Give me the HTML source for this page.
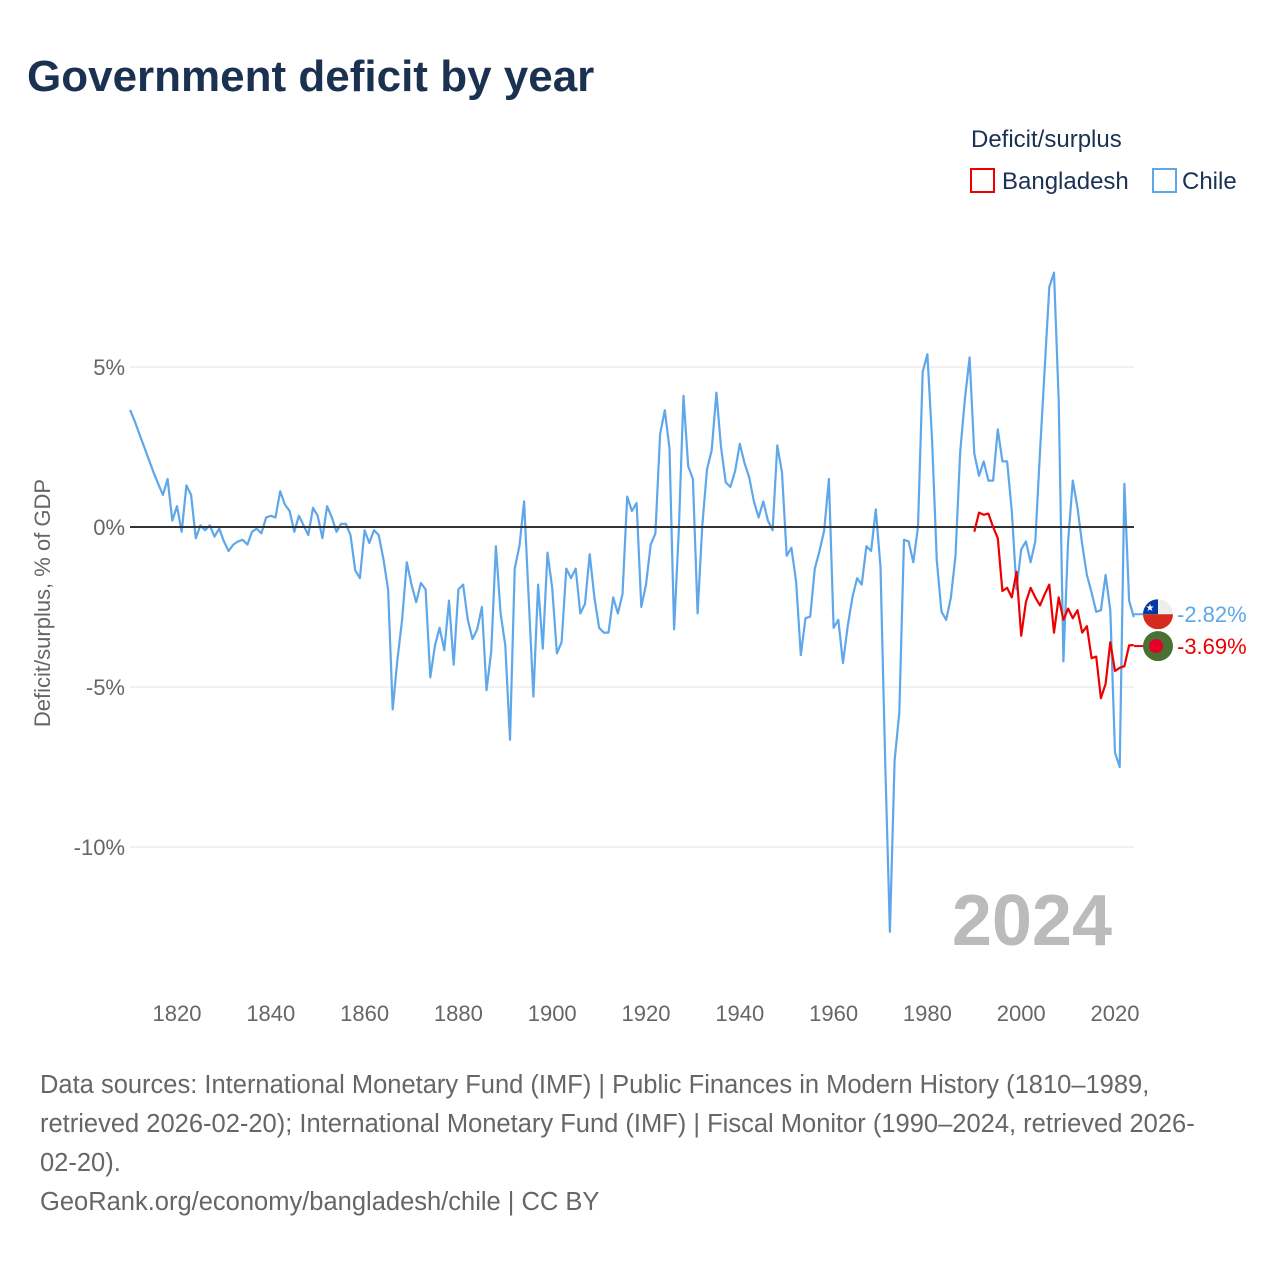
<!DOCTYPE html>
<html><head><meta charset="utf-8">
<style>
body{margin:0;background:#fff;font-family:"Liberation Sans",sans-serif;}
#wrap{position:relative;width:1280px;height:1280px;overflow:hidden;}
.title{position:absolute;left:27px;top:52px;font-size:44px;font-weight:bold;color:#1b3152;}
.foot{position:absolute;left:40px;top:1066px;width:1230px;font-size:25.5px;line-height:39px;color:#666;white-space:nowrap;}
</style></head><body>
<div id="wrap">
<div class="title">Government deficit by year</div>
<svg id="chart" width="1280" height="1280" style="position:absolute;left:0;top:0"></svg>
<div class="foot">Data sources: International Monetary Fund (IMF) | Public Finances in Modern History (1810–1989,<br>retrieved 2026-02-20); International Monetary Fund (IMF) | Fiscal Monitor (1990–2024, retrieved 2026-<br>02-20).<br>GeoRank.org/economy/bangladesh/chile | CC BY</div>
</div>
<script>
const yTicks=[5,0,-5,-10];
const yTickLabels=["5%","0%","-5%","-10%"];
const xTicks=[1820,1840,1860,1880,1900,1920,1940,1960,1980,2000,2020];
const chileStart=1810;
const chileValues=[3.66,3.3,2.9,2.5,2.1,1.7,1.35,1.0,1.5,0.2,0.65,-0.15,1.3,1.0,-0.35,0.05,-0.1,0.05,-0.3,-0.05,
-0.45,-0.75,-0.55,-0.45,-0.4,-0.55,-0.15,-0.05,-0.2,0.3,0.35,0.3,1.12,0.7,0.5,-0.15,0.35,0.05,-0.25,0.6,
0.35,-0.35,0.65,0.3,-0.15,0.1,0.1,-0.25,-1.35,-1.6,-0.1,-0.5,-0.1,-0.25,-1.0,-1.95,-5.7,-4.15,-2.9,-1.1,
-1.8,-2.35,-1.75,-1.95,-4.7,-3.7,-3.15,-3.85,-2.3,-4.3,-1.95,-1.8,-2.9,-3.5,-3.2,-2.5,-5.1,-3.9,-0.6,-2.7,
-3.7,-6.65,-1.3,-0.6,0.8,-2.3,-5.3,-1.8,-3.8,-0.8,-1.9,-3.95,-3.6,-1.3,-1.6,-1.3,-2.7,-2.4,-0.85,-2.2,
-3.15,-3.3,-3.3,-2.2,-2.7,-2.1,0.95,0.5,0.75,-2.5,-1.8,-0.55,-0.2,2.9,3.65,2.45,-3.2,-0.1,4.1,1.9,
1.5,-2.7,0.05,1.8,2.4,4.2,2.5,1.4,1.25,1.75,2.6,2.0,1.55,0.8,0.3,0.8,0.2,-0.1,2.55,1.7,
-0.9,-0.65,-1.7,-4.0,-2.85,-2.8,-1.3,-0.75,-0.1,1.5,-3.15,-2.9,-4.25,-3.1,-2.2,-1.6,-1.8,-0.6,-0.75,0.55,
-1.25,-7.35,-12.65,-7.3,-5.8,-0.4,-0.45,-1.1,0,4.85,5.4,2.7,-1.05,-2.65,-2.9,-2.2,-0.9,2.35,4.0,5.3,
2.3,1.6,2.05,1.45,1.45,3.05,2.05,2.05,0.5,-1.95,-0.7,-0.45,-1.1,-0.45,2.35,4.95,7.5,7.95,3.95,-4.2,
-0.45,1.45,0.6,-0.55,-1.5,-2.05,-2.65,-2.6,-1.5,-2.6,-7.05,-7.5,1.35,-2.3,-2.82];
const bdStart=1990;
const bdValues=[-0.15,0.45,0.38,0.42,0,-0.35,-2.0,-1.9,-2.2,-1.4,-3.4,-2.35,-1.9,-2.2,-2.45,-2.1,-1.8,-3.3,-2.2,-2.9,
-2.55,-2.85,-2.6,-3.3,-3.1,-4.1,-4.05,-5.35,-4.9,-3.6,-4.5,-4.4,-4.35,-3.7,-3.69];
const NS="http://www.w3.org/2000/svg";
const svg=document.getElementById('chart');
const X=yr=>177+(yr-1820)*4.69;
const Y=v=>527-v*32;
function mk(t,a){const e=document.createElementNS(NS,t);for(const k in a)e.setAttribute(k,a[k]);svg.appendChild(e);return e;}
yTicks.forEach((t,i)=>{
  if(t!==0){const g=mk('line',{x1:130,x2:1134,y1:Y(t),y2:Y(t),stroke:'#e3e3e3','stroke-width':1});
  
  }
  const l=mk('text',{x:125,y:Y(t)+8,'text-anchor':'end','font-size':22,fill:'#666'});
  l.textContent=yTickLabels[i];
  
  
});
xTicks.forEach(t=>{
  const l=mk('text',{x:X(t),y:1021,'text-anchor':'middle','font-size':22,fill:'#666'});
  l.textContent=t;
  
  
});
const yt=mk('text',{x:0,y:0,transform:'translate(50,603) rotate(-90)','text-anchor':'middle','font-size':22,fill:'#666'});
yt.textContent='Deficit/surplus, % of GDP';


const yr=mk('text',{x:1112,y:945,'text-anchor':'end','font-size':72,'font-weight':'bold',fill:'#bbb'});
yr.textContent='2024';


function series(start,vals,color,name){
  const d=vals.map((v,i)=>(i?'L':'M')+X(start+i).toFixed(1)+','+Y(v).toFixed(1)).join('');
  const p=mk('path',{d:d,fill:'none',stroke:color,'stroke-width':2.2,'stroke-linejoin':'round'});
  
  
}
series(chileStart,chileValues,'#5ea7ea','chile-line');
const z=mk('line',{x1:130,x2:1134,y1:Y(0),y2:Y(0),stroke:'#333','stroke-width':2});


series(bdStart,bdValues,'#ee0000','bangladesh-line');
const cv=chileValues[chileValues.length-1], bv=bdValues[bdValues.length-1];
const cy=Y(cv)-3, by=Y(bv)+1;
mk('line',{x1:1134,x2:1146,y1:cy,y2:cy,stroke:'#5ea7ea','stroke-width':2});
mk('line',{x1:1134,x2:1146,y1:by,y2:by,stroke:'#ee0000','stroke-width':2});
const cf=mk('g',{});


cf.innerHTML=`<clipPath id="cc"><circle cx="1158" cy="${cy}" r="15"/></clipPath><g clip-path="url(#cc)"><rect x="1143" y="${cy-15}" width="30" height="15" fill="#eee"/><rect x="1143" y="${cy-15}" width="15" height="15" fill="#0039a6"/><rect x="1143" y="${cy}" width="30" height="15" fill="#d52b1e"/><text x="1150" y="${cy-3}" font-size="10" fill="#fff" text-anchor="middle">★</text></g>`;
const bf=mk('g',{});


bf.innerHTML=`<circle cx="1158" cy="${by}" r="15" fill="#4a7033"/><circle cx="1156" cy="${by}" r="7" fill="#e4002b"/>`;
const cl=mk('text',{x:1177,y:cy+8,'font-size':22,fill:'#5ea7ea'});
cl.textContent=cv.toFixed(2)+'%';


const bl=mk('text',{x:1177,y:by+8,'font-size':22,fill:'#ee0000'});
bl.textContent=bv.toFixed(2)+'%';


const lt=mk('text',{x:971,y:147,'font-size':24,fill:'#1b3152'});
lt.textContent='Deficit/surplus';


const lb=mk('rect',{x:971,y:169,width:23,height:23,fill:'none',stroke:'#ee0000','stroke-width':2});


const lbt=mk('text',{x:1002,y:189,'font-size':24,fill:'#1b3152'});
lbt.textContent='Bangladesh';


const lc=mk('rect',{x:1153,y:169,width:23,height:23,fill:'none',stroke:'#5ea7ea','stroke-width':2});


const lct=mk('text',{x:1182,y:189,'font-size':24,fill:'#1b3152'});
lct.textContent='Chile';


</script>
</body></html>
